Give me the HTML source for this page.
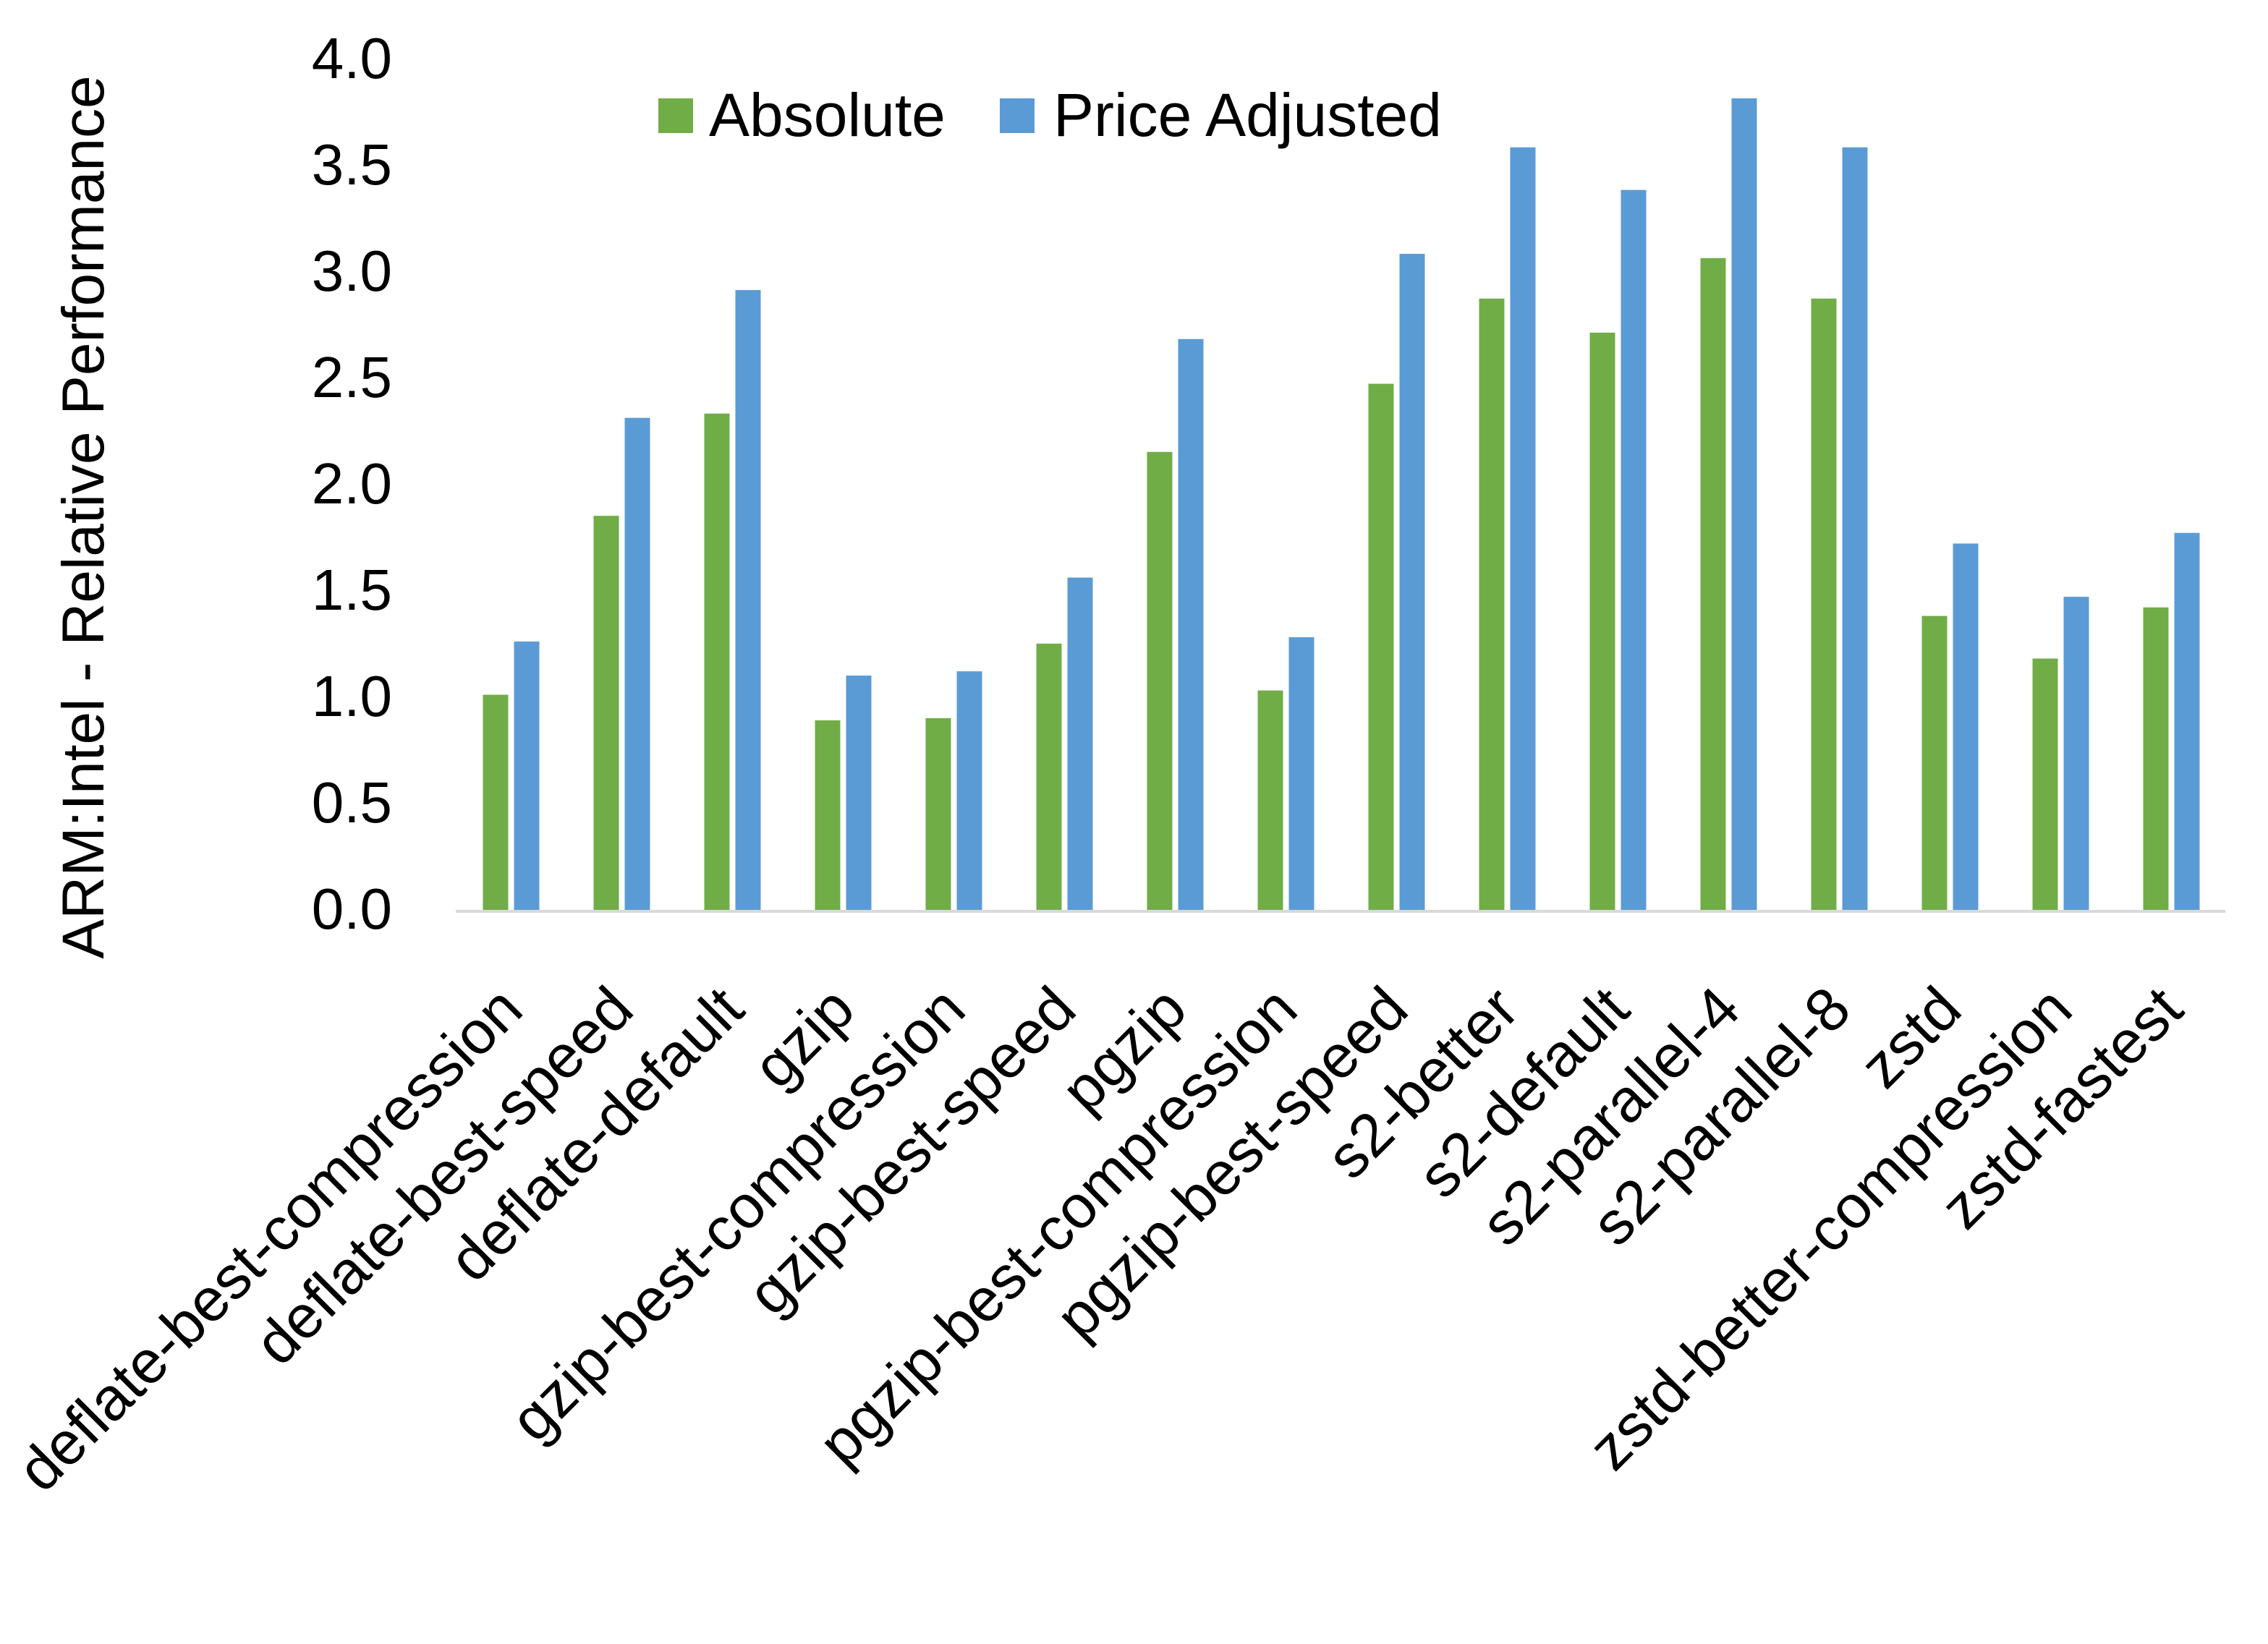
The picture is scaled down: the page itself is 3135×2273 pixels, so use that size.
<!DOCTYPE html>
<html><head><meta charset="utf-8"><style>
html,body{margin:0;padding:0;background:#fff;}
svg{display:block;}
text{font-family:"Liberation Sans",sans-serif;fill:#000;}
</style></head><body>
<svg width="3135" height="2273" viewBox="0 0 3135 2273" xmlns="http://www.w3.org/2000/svg">
<rect width="3135" height="2273" fill="#fff"/>
<g font-size="80" text-anchor="end">
<text x="542" y="108">4.0</text>
<text x="542" y="255">3.5</text>
<text x="542" y="402">3.0</text>
<text x="542" y="549">2.5</text>
<text x="542" y="696">2.0</text>
<text x="542" y="843">1.5</text>
<text x="542" y="990">1.0</text>
<text x="542" y="1137">0.5</text>
<text x="542" y="1284">0.0</text>
</g>
<text transform="translate(143,715) rotate(-90)" font-size="82" text-anchor="middle">ARM:Intel - Relative Performance</text>
<rect x="910" y="136" width="48" height="48" fill="#70ad47"/>
<text x="980" y="188" font-size="84">Absolute</text>
<rect x="1382" y="136" width="48" height="48" fill="#5b9bd5"/>
<text x="1456" y="188" font-size="84">Price Adjusted</text>
<g id="bars"></g>
<line x1="630" y1="1260" x2="3076" y2="1260" stroke="#d9d9d9" stroke-width="4"/>
<g id="labels" font-size="84" text-anchor="end"></g>
</svg>
<script>
var d=[["deflate-best-compression",1.01,1.26],["deflate-best-speed",1.85,2.31],["deflate-default",2.33,2.91],["gzip",0.89,1.10],["gzip-best-compression",0.90,1.12],["gzip-best-speed",1.25,1.56],["pgzip",2.15,2.68],["pgzip-best-compression",1.03,1.28],["pgzip-best-speed",2.47,3.08],["s2-better",2.87,3.58],["s2-default",2.71,3.38],["s2-parallel-4",3.06,3.81],["s2-parallel-8",2.87,3.58],["zstd",1.38,1.72],["zstd-better-compression",1.18,1.47],["zstd-fastest",1.42,1.77]];
var ns="http://www.w3.org/2000/svg",b=document.getElementById("bars"),l=document.getElementById("labels");
function Y(v){return 1258-v*294.5;}
d.forEach(function(r,i){var c=630+153*(i+0.5);
[[r[1],c-39,"#70ad47"],[r[2],c+4,"#5b9bd5"]].forEach(function(q){var e=document.createElementNS(ns,"rect");e.setAttribute("x",q[1]);e.setAttribute("y",Y(q[0]));e.setAttribute("width",35);e.setAttribute("height",1258-Y(q[0]));e.setAttribute("fill",q[2]);b.appendChild(e);});
var t=document.createElementNS(ns,"text");var x=c+20,y=1400;t.setAttribute("transform","translate("+x+","+y+") rotate(-45)");t.textContent=r[0];l.appendChild(t);});
</script>
</body></html>
